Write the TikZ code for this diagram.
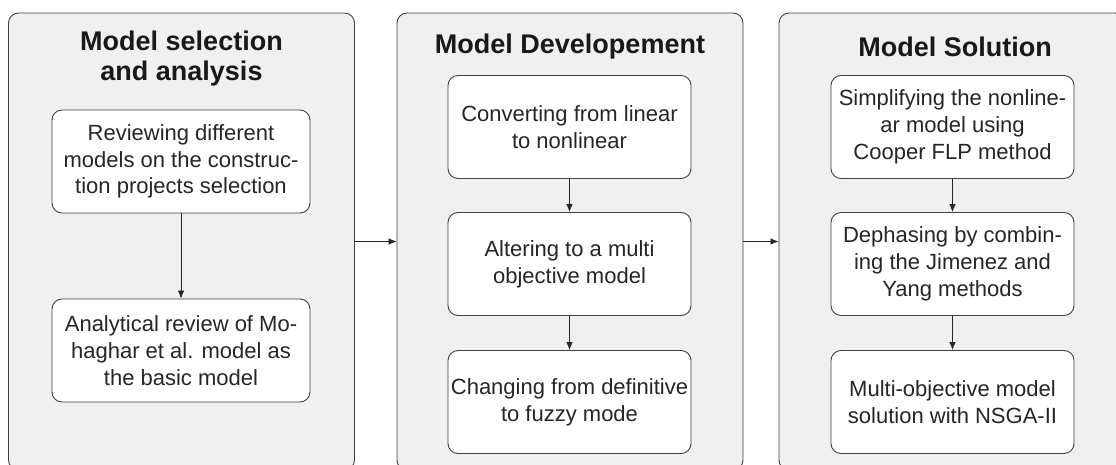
\documentclass[tikz,border=0pt]{standalone}
\usepackage{fontspec}
\setmainfont{Liberation Sans}
\usetikzlibrary{arrows.meta}

\begin{document}
\begin{tikzpicture}
		[
			x=1pt, y=-1pt,
			stage/.style={draw=black!75, fill=black!6, rounded corners=10pt, line width=0.9pt, minimum width=346pt, minimum height=457pt, inner sep=0pt},
			heading/.style={font=\fontsize{27}{30}\selectfont\bfseries, align=center, text=black!90},
			task/.style={draw=black!75, fill=white, rounded corners=10pt, line width=0.9pt, minimum width=243pt, minimum height=103pt, inner xsep=1pt, align=center, font=\fontsize{22}{26.7}\selectfont, text=black!85},
			link/.style={-{Latex[length=8pt, width=6.5pt]}, line width=0.8pt, black!85},
		]

		\useasboundingbox (0,0) rectangle (1116,465);

		% Stages
		\foreach \name/\x in
		{
			sel/181.5,
			dev/570,
			sol/952
		}
			\node[stage] (\name) at (\x,241.5) {};

		% Headings
		\node[heading] (selT) at (181.5,59) {Model selection\\and analysis};
		\node[heading] (devT) at (570,47) {Model Developement};
		\node[heading] (solT) at (955,47) {Model Solution};

		% Tasks
		\node[task, minimum width=258pt] (s1) at (181,161.5) {Reviewing different\\models on the construc-\\tion projects selection};
		\node[task, minimum width=258pt] (s2) at (181,350.5) {Analytical review of Mo-\\haghar et al. model as\\the basic model};

		\node[task] (d1) at (569.5,127) {Converting from linear\\to nonlinear};
		\node[task] (d2) at (569.5,264) {Altering to a multi\\objective model};
		\node[task] (d3) at (569.5,402) {Changing from definitive\\to fuzzy mode};

		\node[task] (o1) at (952.5,127) {Simplifying the nonline-\\ar model using\\Cooper FLP method};
		\node[task] (o2) at (952.5,264) {Dephasing by combin-\\ing the Jimenez and\\Yang methods};
		\node[task] (o3) at (952.5,402) {Multi-objective model\\solution with NSGA-II};

		% Links
		\foreach \u/\v in
		{
			s1/s2,
			d1/d2,
			d2/d3,
			o1/o2,
			o2/o3,
			sel/dev,
			dev/sol}
			\draw[link] (\u) -- (\v);

		\end{tikzpicture}
\end{document}
